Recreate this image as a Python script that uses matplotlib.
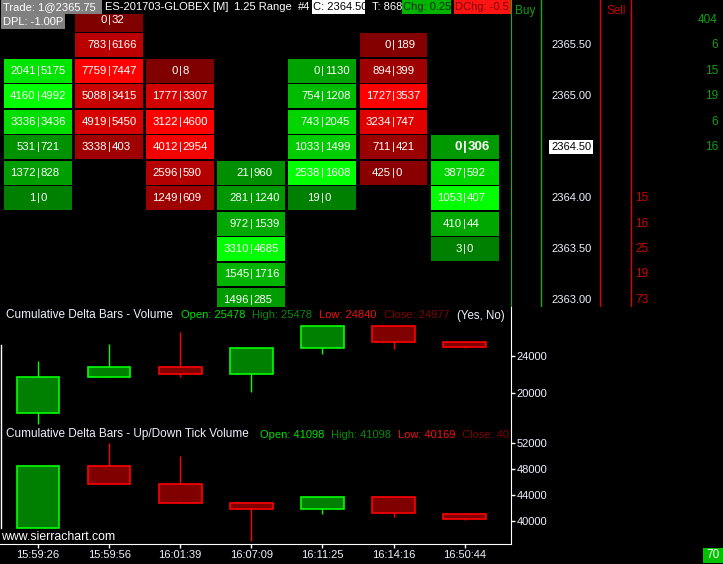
import matplotlib
matplotlib.use('Agg')
import matplotlib.pyplot as plt
from matplotlib.patches import Rectangle

plt.rcParams['font.family'] = ['Liberation Sans', 'DejaVu Sans']
plt.rcParams['font.size'] = 8

# Footprint (bid|ask por nível de preço, de cima para baixo) ------------------------------------------------------ #
fp_top = [2365.25, 2365.75, 2365.25, 2364.25, 2365.25, 2365.50, 2364.50]
bar_up = [True, False, False, True, True, False, True]
fp_bid = [[2041, 4160, 3336, 531, 1372, 1],
          [0, 783, 7759, 5088, 4919, 3338],
          [0, 1777, 3122, 4012, 2596, 1249],
          [21, 281, 972, 3310, 1545, 1496],
          [0, 754, 743, 1033, 2538, 19],
          [0, 894, 1727, 3234, 711, 425],
          [0, 387, 1053, 410, 3]]
fp_ask = [[5175, 4992, 3436, 721, 828, 0],
          [32, 6166, 7447, 3415, 5450, 403],
          [8, 3307, 4600, 2954, 590, 609],
          [960, 1240, 1539, 4685, 1716, 285],
          [1130, 1208, 2045, 1499, 1608, 0],
          [189, 399, 3537, 747, 421, 0],
          [306, 592, 407, 44, 0]]
last_price = 2364.50

price_labels = [2365.50, 2365.00, 2364.50, 2364.00, 2363.50, 2363.00]
buy_prices = [2365.75, 2365.50, 2365.25, 2365.00, 2364.75, 2364.50]
buy_vol = [404, 6, 15, 19, 6, 16]
sell_prices = [2364.00, 2363.75, 2363.50, 2363.25, 2363.00]
sell_vol = [15, 16, 25, 19, 73]

# Cumulative delta - Volume
mid_open = [17870, 21700, 22770, 22020, 24780, 27200, 25478]
mid_high = [23440, 25250, 26520, 24800, 27200, 27200, 25478]
mid_low = [16730, 21700, 21770, 20180, 24140, 24660, 24840]
mid_close = [21700, 22770, 22020, 24800, 27200, 25480, 24977]
mid_ticks = [20000, 24000]

# Cumulative delta - Up/Down tick volume
bot_open = [38820, 48480, 45740, 42700, 41770, 43650, 41098]
bot_high = [48480, 52100, 50050, 42700, 43650, 43650, 41098]
bot_low = [38820, 45740, 42700, 36870, 41100, 40630, 40169]
bot_close = [48480, 45740, 42700, 41770, 43650, 41150, 40310]
bot_ticks = [40000, 44000, 48000, 52000]

times = ['15:59:26', '15:59:56', '16:01:39', '16:07:09', '16:11:25', '16:14:16', '16:50:44']

# Layout em pixels ------------------------------------------------------------------------------------------------ #
W, H = 723, 564
RIGHT = 510.7
X0, PITCH = 38, 71.1
TXT = '#EEF2FF'

def place(x0, y0, x1, y1):
    return [x0 / W, 1 - y1 / H, (x1 - x0) / W, (y1 - y0) / H]

fig = plt.figure(figsize=(W / 100, H / 100), dpi=100, facecolor='black')
xlim = (-X0 / PITCH, (RIGHT - X0) / PITCH)
plim = (2363.00 - 7 / 101.6, 2365.50 + 45 / 101.6)

ax_fp = fig.add_axes(place(0, 0, RIGHT, 307), facecolor='black')
ax_px = fig.add_axes(place(RIGHT, 0, W, 307), facecolor='none')
ax_mid = fig.add_axes(place(0, 307, RIGHT, 427), facecolor='black')
ax_bot = fig.add_axes(place(0, 427, RIGHT, 544), facecolor='black')
ov = fig.add_axes([0, 0, 1, 1], facecolor='none', zorder=10)
ov.set_xlim(0, W); ov.set_ylim(H, 0); ov.axis('off')

for ax in (ax_fp, ax_mid, ax_bot):
    ax.set_xlim(*xlim)
    for s in ax.spines.values():
        s.set_visible(False)
    ax.set_xticks([]); ax.set_yticks([])

# Footprint
ax_fp.set_ylim(*plim)
ax_fp.spines['right'].set_visible(True)
ax_fp.spines['right'].set_color('#10B010')
cell_h = 0.235
for i, (top, bids, asks) in enumerate(zip(fp_top, fp_bid, fp_ask)):
    tot = [b + a for b, a in zip(bids, asks)]
    vmax = max(tot)
    prices = [top - 0.25 * k for k in range(len(bids))]
    cols = []
    for t in tot:
        lv = 0.5 + 0.5 * t / vmax
        cols.append((0, lv, 0) if bar_up[i] else (lv, 0, 0))
    ax_fp.bar([i] * len(prices), [cell_h] * len(prices), bottom=[p - cell_h / 2 for p in prices],
              width=0.956, color=cols, zorder=1)
    for p, b, a in zip(prices, bids, asks):
        bold = (i == len(fp_top) - 1 and p == last_price)
        kw = dict(color='white', va='center', zorder=3, fontsize=9.5 if bold else 8.2,
                  fontweight='bold' if bold else 'normal')
        off = 0.045 if bold else 0.033
        ax_fp.text(i - off, p, str(b), ha='right', **kw)
        ax_fp.text(i, p, '|', ha='center', **kw)
        ax_fp.text(i + off, p, str(a), ha='left', **kw)

# Escala de preço + buy/sell
ax_px.set_xlim(RIGHT, W); ax_px.set_ylim(*plim); ax_px.axis('off')
ax_px.axvline(541.3, color='#10B010', lw=1)
ax_px.axvline(600.3, color='#E00000', lw=1)
ax_px.axvline(631.3, color='#E00000', lw=1)
for p in price_labels:
    if p == last_price:
        ax_px.text(551, p, f'{p:.2f}', color='black', va='center', ha='left', fontsize=8,
                   bbox=dict(facecolor='white', edgecolor='none', pad=1.2))
    else:
        ax_px.text(551, p, f'{p:.2f}', color=TXT, va='center', ha='left', fontsize=8)
for p, v in zip(buy_prices, buy_vol):
    ax_px.text(718, p, str(v), color='#14A014', va='center', ha='right', fontsize=8.5)
for p, v in zip(sell_prices, sell_vol):
    ax_px.text(635, p, str(v), color='#D00000', va='center', ha='left', fontsize=8.5)


def candles(ax, o, h, l, c):
    x = list(range(len(o)))
    up = [cc >= oo for oo, cc in zip(o, c)]
    edge = ['#00FF00' if u else '#FF0000' for u in up]
    face = ['#008000' if u else '#800000' for u in up]
    ax.vlines(x, l, h, colors=edge, lw=1, zorder=1)
    ax.bar(x, [abs(cc - oo) for oo, cc in zip(o, c)], bottom=[min(oo, cc) for oo, cc in zip(o, c)],
           width=0.6, color=face, edgecolor=edge, linewidth=1.2, zorder=2)


candles(ax_mid, mid_open, mid_high, mid_low, mid_close)
ax_mid.set_ylim(24000 - 71.3 * 106.4, 24000 + 48.7 * 106.4)
candles(ax_bot, bot_open, bot_high, bot_low, bot_close)
ax_bot.set_ylim(40000 - 23.3 * 155, 52000 + 16.3 * 155)

for ax, ticks in ((ax_mid, mid_ticks), (ax_bot, bot_ticks)):
    ax.spines['right'].set_visible(True)
    ax.spines['right'].set_color('white')
    ax.yaxis.tick_right()
    ax.set_yticks(ticks)
    ax.set_yticklabels([str(t) for t in ticks])
    ax.tick_params(axis='y', colors='white', labelcolor=TXT, length=3, width=1, pad=1, labelsize=8)
ax_bot.spines['bottom'].set_visible(True)
ax_bot.spines['bottom'].set_color('white')
ax_bot.set_xticks(range(len(times)))
ax_bot.set_xticklabels(times)
ax_bot.tick_params(axis='x', colors='white', labelcolor=TXT, length=3, width=1, pad=1.5, labelsize=8)

# Cabeçalho e títulos ---------------------------------------------------------------------------------------------- #
def box(x0, y0, x1, y1, color):
    ov.add_patch(Rectangle((x0, y0), x1 - x0, y1 - y0, facecolor=color, edgecolor='none'))

def label(x, y, s, color=TXT, clip=None, **kw):
    t = ov.text(x, y, s, color=color, va='center', ha='left', **kw)
    if clip is not None:
        t.set_clip_box(clip.bbox); t.set_clip_on(True)
    return t

box(0, 0, RIGHT, 14, 'black')
box(1, 0, 102, 14, '#808080')
box(1, 14, 65, 29, '#808080')
box(312, 0, 365, 14, 'white')
box(402, 0, 451, 14, '#00B400')
box(454, 0, RIGHT, 14, '#FF1414')
label(3, 7.5, 'Trade: 1@2365.75', 'white')
label(3, 22, 'DPL: -1.00P', 'white')
label(105, 7.5, 'ES-201703-GLOBEX [M]', 'white')
label(234, 7.5, '1.25 Range', 'white')
label(298, 7.5, '#4', 'white')
label(313, 7.5, 'C: 2364.50', 'black')
label(372, 7.5, 'T: 868', 'white')
label(403, 7.5, 'Chg: 0.25', '#003000')
label(455, 7.5, 'DChg: -0.5', '#800000', clip=ax_fp)
label(515.5, 11, 'Buy', '#14A014', fontsize=8.5)
label(606.5, 11, 'Sell', '#C80000', fontsize=8.5)

label(6, 315.5, 'Cumulative Delta Bars - Volume', fontsize=8.5)
label(181, 315.5, 'Open: 25478', '#00E000')
label(252, 315.5, 'High: 25478', '#0A8A0A')
label(319, 315.5, 'Low: 24840', '#F01010')
label(384, 315.5, 'Close: 24977', '#800000')
label(457, 315.5, '(Yes, No)', fontsize=8.3)

label(6, 434.5, 'Cumulative Delta Bars - Up/Down Tick Volume', fontsize=8.5)
label(260, 434.5, 'Open: 41098', '#00E000')
label(331, 434.5, 'High: 41098', '#0A8A0A')
label(398, 434.5, 'Low: 40169', '#F01010')
label(462.5, 434.5, 'Close: 40169', '#800000', clip=ax_bot)

ov.plot([0.5, 0.5], [345, 528], color='white', lw=1)
label(1, 537, 'www.sierrachart.com', 'white', fontsize=8.8)
box(703, 548, 723, 563, '#00C000')
ov.text(713, 555.5, '70', color='white', ha='center', va='center', fontsize=8.5)

fig.savefig('out.png', dpi=100, facecolor='black')
